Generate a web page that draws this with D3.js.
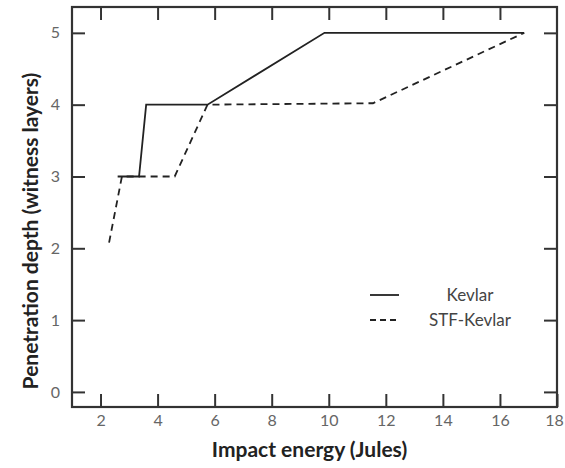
<!DOCTYPE html>
<html>
<head>
<meta charset="utf-8">
<script src="https://cdn.jsdelivr.net/npm/d3@7"></script>
<style>
body { margin: 0; background: #fff; }
text { font-family: Lato, "Open Sans", sans-serif; }
</style>
</head>
<body>
<div id="chart"></div>
<script>
// data
var kevlarEnergy = [2.6, 3.35, 3.6, 5.75, 9.85, 16.85];
var kevlarDepth  = [3, 3, 4, 4, 5, 5];
var stfEnergy = [2.3, 2.75, 4.6, 5.75, 11.55, 16.85];
var stfDepth  = [2.08, 3, 3, 4, 4.02, 5];
var xTicks = [2, 4, 6, 8, 10, 12, 14, 16, 18];
var yTicks = [0, 1, 2, 3, 4, 5];

var W = 565, H = 468;
var margin = {top: 7, right: 8, bottom: 61, left: 72},
    width = W - margin.left - margin.right,
    height = H - margin.top - margin.bottom;

var x = d3.scaleLinear().domain([1, 18]).range([0, width]);
var y = d3.scaleLinear().domain([-0.21, 5.36]).range([height, 0]);

var svg = d3.select("#chart").append("svg")
    .attr("width", W).attr("height", H)
  .append("g")
    .attr("transform", "translate(" + margin.left + "," + margin.top + ")");

var tickLen = 13, ink = "#333", labelInk = "#666";

// inward ticks on all four sides
function styleAxis(g) {
    g.select(".domain").remove();
    g.selectAll("line").attr("stroke", ink).attr("stroke-width", 2);
    g.selectAll("text").attr("fill", labelInk).style("font-size", "16px");
}

var xAxisG = svg.append("g")
    .attr("transform", "translate(0," + height + ")")
    .call(d3.axisBottom(x).tickValues(xTicks).tickSize(-tickLen).tickPadding(8).tickFormat(d3.format("d")))
    .call(styleAxis);
// last label sits on the page edge, pull it in a little
xAxisG.selectAll(".tick text").filter(function(d) { return d === 18; }).attr("dx", "-3");

svg.append("g")
    .call(d3.axisTop(x).tickValues(xTicks.slice(0, -1)).tickSize(-tickLen).tickFormat(""))
    .call(styleAxis);
svg.append("g")
    .call(d3.axisLeft(y).tickValues(yTicks).tickSize(-tickLen).tickPadding(12).tickFormat(d3.format("d")))
    .call(styleAxis);
svg.append("g")
    .attr("transform", "translate(" + width + ",0)")
    .call(d3.axisRight(y).tickValues(yTicks).tickSize(-tickLen).tickFormat(""))
    .call(styleAxis);

// frame
svg.append("rect")
    .attr("width", width).attr("height", height)
    .attr("fill", "none").attr("stroke", ink).attr("stroke-width", 2.2);

var line = d3.line()
    .x(function(d) { return x(d[0]); })
    .y(function(d) { return y(d[1]); });

svg.append("path")
    .datum(d3.zip(kevlarEnergy, kevlarDepth))
    .attr("d", line)
    .attr("fill", "none").attr("stroke", "#222").attr("stroke-width", 1.8);

svg.append("path")
    .datum(d3.zip(stfEnergy, stfDepth))
    .attr("d", line)
    .attr("fill", "none").attr("stroke", "#222").attr("stroke-width", 1.8)
    .attr("stroke-dasharray", "7,5");

// legend
var legend = svg.append("g").attr("transform", "translate(" + (370 - margin.left) + "," + (295 - margin.top) + ")");
[["Kevlar", null], ["STF-Kevlar", "6,4"]].forEach(function(s, i) {
    var row = legend.append("g").attr("transform", "translate(0," + (i * 25) + ")");
    row.append("line")
        .attr("x1", 0).attr("x2", 29)
        .attr("stroke", "#222").attr("stroke-width", 1.8)
        .attr("stroke-dasharray", s[1]);
    row.append("text")
        .attr("x", 100).attr("y", 6)
        .attr("text-anchor", "middle")
        .attr("fill", "#444")
        .style("font-size", "17px")
        .text(s[0]);
});

// axis titles
svg.append("text")
    .attr("x", width / 2 - 5).attr("y", height + 50)
    .attr("text-anchor", "middle")
    .style("font-size", "21px").style("font-weight", "bold")
    .attr("fill", "#222")
    .text("Impact energy (Jules)");

svg.append("text")
    .attr("transform", "rotate(-90)")
    .attr("x", -(231 - margin.top)).attr("y", -34)
    .attr("text-anchor", "middle")
    .style("font-size", "21px").style("font-weight", "bold")
    .attr("fill", "#222")
    .text("Penetration depth (witness layers)");
</script>
</body>
</html>
